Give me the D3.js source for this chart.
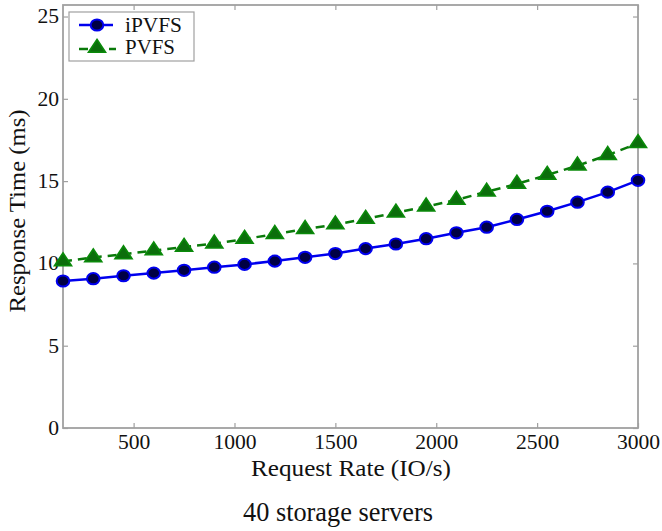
<!DOCTYPE html>
<html>
<head>
<meta charset="utf-8">
<script src="https://cdn.jsdelivr.net/npm/d3@7"></script>
<style>
body { margin: 0; background: #fff; }
svg text { font-family: "Liberation Serif", "Times New Roman", serif; fill: #111; }
</style>
</head>
<body>
<div id="chart"></div>
<script>
// request rates (IO/s)
var rates = [150, 300, 450, 600, 750, 900, 1050, 1200, 1350, 1500, 1650, 1800, 1950, 2100, 2250, 2400, 2550, 2700, 2850, 3000]
// response time (ms)
var ipvfs = [8.93, 9.07, 9.25, 9.41, 9.58, 9.77, 9.94, 10.14, 10.37, 10.6, 10.9, 11.18, 11.5, 11.86, 12.2, 12.67, 13.17, 13.72, 14.33, 15.05]
var pvfs = [10.12, 10.36, 10.55, 10.78, 11.0, 11.2, 11.48, 11.78, 12.08, 12.36, 12.7, 13.08, 13.45, 13.86, 14.35, 14.83, 15.37, 15.94, 16.58, 17.3]
var xTicks = [500, 1000, 1500, 2000, 2500, 3000]
var yTicks = [0, 5, 10, 15, 20, 25]

var width = 662, height = 531
var margin = {top: 5, bottom: 103, left: 63, right: 24}

var svg = d3.select("#chart").append("svg")
    .attr("width", width)
    .attr("height", height)

var x = d3.scaleLinear()
    .domain([150, 3000])
    .range([margin.left, width - margin.right])

var y = d3.scaleLinear()
    .domain([0, 25.7])
    .range([height - margin.bottom, margin.top])

var axisColor = "#a0a0a0"

// frame
svg.append("rect")
    .attr("x", margin.left)
    .attr("y", margin.top)
    .attr("width", width - margin.left - margin.right)
    .attr("height", height - margin.top - margin.bottom)
    .attr("fill", "none")
    .attr("stroke", axisColor)
    .attr("stroke-width", 1.8)

function xAxis(g){
    g.attr("transform", `translate(0, ${height - margin.bottom})`)
    .call(d3.axisBottom(x).tickValues(xTicks).tickFormat(d3.format("d")).tickSizeInner(-5).tickSizeOuter(0).tickPadding(7))
    .attr("font-size", "20px")
    .attr("font-family", "Liberation Serif, serif")
}
function xAxisTop(g){
    g.attr("transform", `translate(0, ${margin.top})`)
    .call(d3.axisTop(x).tickValues(xTicks).tickSizeInner(-5).tickSizeOuter(0).tickFormat(""))
}
function yAxis(g){
    g.attr("transform", `translate(${margin.left},0)`)
    .call(d3.axisLeft(y).tickValues(yTicks).tickSizeInner(-5).tickSizeOuter(0).tickPadding(4))
    .attr("font-size", "20px")
    .attr("font-family", "Liberation Serif, serif")
}
function yAxisRight(g){
    g.attr("transform", `translate(${width - margin.right},0)`)
    .call(d3.axisRight(y).tickValues(yTicks).tickSizeInner(-5).tickSizeOuter(0).tickFormat(""))
}
;[xAxis, xAxisTop, yAxis, yAxisRight].forEach(function(f){
    var g = svg.append("g").call(f)
    g.select(".domain").remove()
    g.selectAll(".tick line").attr("stroke", axisColor).attr("stroke-width", 1.2)
    g.selectAll(".tick text")
        .attr("fill", "#111")
        .each(function(){
            var t = d3.select(this).text()
            if (t) d3.select(this).attr("textLength", t.length * 10.8).attr("lengthAdjust", "spacingAndGlyphs")
        })
})

var line = d3.line()
    .x((d, i) => x(rates[i]))
    .y(d => y(d))

// PVFS dashed green
svg.append("path")
    .datum(pvfs)
    .attr("fill", "none")
    .attr("stroke", "#0a7a0a")
    .attr("stroke-width", 2.5)
    .attr("stroke-dasharray", "9,6")
    .attr("d", line)

// iPVFS solid blue
svg.append("path")
    .datum(ipvfs)
    .attr("fill", "none")
    .attr("stroke", "#0000ee")
    .attr("stroke-width", 2.5)
    .attr("d", line)

var tri = d3.symbol().type(d3.symbolTriangle).size(95)

svg.append("g")
    .selectAll("path")
    .data(pvfs)
    .join("path")
    .attr("d", tri)
    .attr("transform", (d, i) => `translate(${x(rates[i])},${y(d)}) scale(1.15,1)`)
    .attr("fill", "#0c6e0c")
    .attr("stroke", "#0a8a0a")
    .attr("stroke-width", 1.5)

svg.append("g")
    .selectAll("ellipse")
    .data(ipvfs)
    .join("ellipse")
    .attr("cx", (d, i) => x(rates[i]))
    .attr("cy", d => y(d))
    .attr("rx", 6.3)
    .attr("ry", 5.6)
    .attr("fill", "#000044")
    .attr("stroke", "#0000ee")
    .attr("stroke-width", 2)

// legend
var lg = svg.append("g")
lg.append("rect")
    .attr("x", 69).attr("y", 12)
    .attr("width", 125).attr("height", 49)
    .attr("fill", "#fff")
    .attr("stroke", axisColor)
    .attr("stroke-width", 1.2)
lg.append("line")
    .attr("x1", 79).attr("x2", 113).attr("y1", 25).attr("y2", 25)
    .attr("stroke", "#0000ee").attr("stroke-width", 2.5)
lg.append("ellipse")
    .attr("cx", 97).attr("cy", 25).attr("rx", 6.3).attr("ry", 5.6)
    .attr("fill", "#000044").attr("stroke", "#0000ee").attr("stroke-width", 2)
lg.append("line")
    .attr("x1", 79).attr("x2", 116).attr("y1", 49).attr("y2", 49)
    .attr("stroke", "#0a7a0a").attr("stroke-width", 2.5)
    .attr("stroke-dasharray", "9,6")
lg.append("path")
    .attr("d", tri)
    .attr("transform", "translate(97,48) scale(1.15,1)")
    .attr("fill", "#0c6e0c").attr("stroke", "#0a8a0a").attr("stroke-width", 1.5)
lg.append("text").attr("x", 125).attr("y", 32).attr("font-size", "20px")
    .attr("textLength", 57).attr("lengthAdjust", "spacingAndGlyphs").text("iPVFS")
lg.append("text").attr("x", 125).attr("y", 54).attr("font-size", "20px")
    .attr("textLength", 50).attr("lengthAdjust", "spacingAndGlyphs").text("PVFS")

// axis titles
svg.append("text")
    .attr("x", 251).attr("y", 476)
    .attr("font-size", "23px")
    .attr("textLength", 200).attr("lengthAdjust", "spacingAndGlyphs")
    .text("Request Rate (IO/s)")
svg.append("text")
    .attr("transform", "translate(25,211) rotate(-90)")
    .attr("text-anchor", "middle")
    .attr("font-size", "24px")
    .attr("textLength", 203).attr("lengthAdjust", "spacingAndGlyphs")
    .text("Response Time (ms)")

svg.append("text")
    .attr("x", 243).attr("y", 521)
    .attr("font-size", "27px")
    .attr("textLength", 190).attr("lengthAdjust", "spacingAndGlyphs")
    .text("40 storage servers")
</script>
</body>
</html>
